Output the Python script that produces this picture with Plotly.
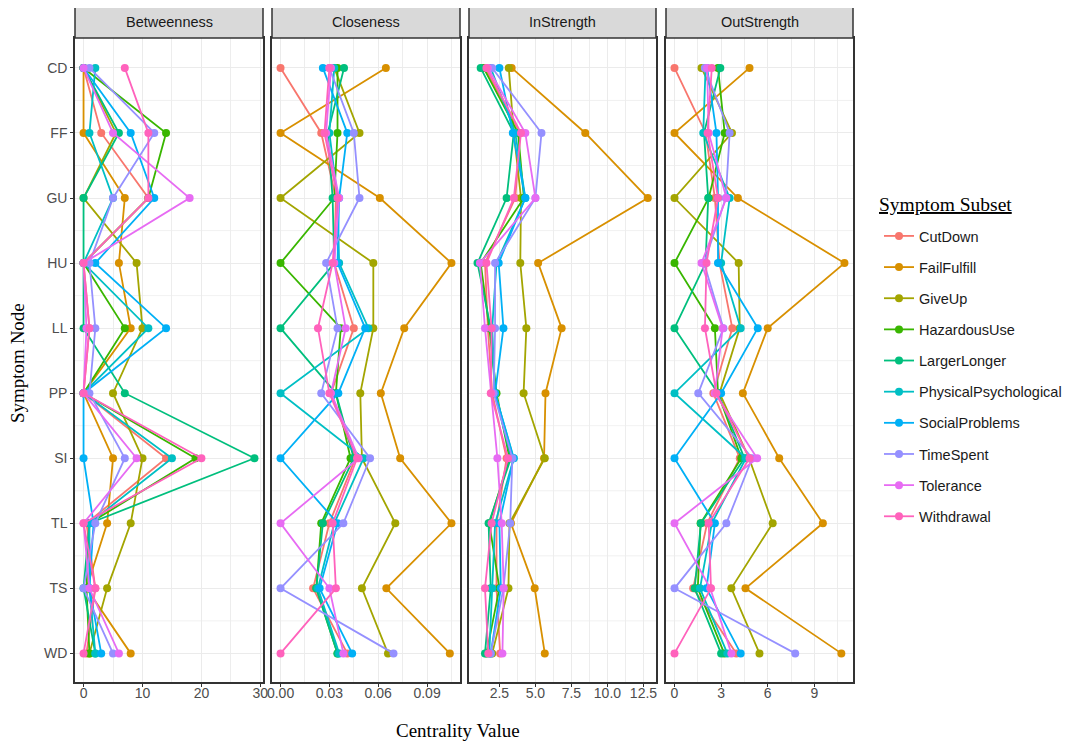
import plotly.graph_objects as go

NODES = ["CD", "FF", "GU", "HU", "LL", "PP", "SI", "TL", "TS", "WD"]
SERIES = ["CutDown", "FailFulfill", "GiveUp", "HazardousUse", "LargerLonger",
          "PhysicalPsychological", "SocialProblems", "TimeSpent", "Tolerance", "Withdrawal"]
COLORS = ["#F8766D", "#D89000", "#A3A500", "#39B600", "#00BF7D",
          "#00BFC4", "#00B0F6", "#9590FF", "#E76BF3", "#FF62BC"]
MEASURES = ["Betweenness", "Closeness", "InStrength", "OutStrength"]

# values in node order CD, FF, GU, HU, LL, PP, SI, TL, TS, WD
BETWEENNESS = {
    "CutDown":               [0, 3, 11, 0, 1, 0, 14, 0.5, 2, 0.5],
    "FailFulfill":           [0, 0, 7, 6, 8, 0, 5, 4, 0.5, 8],
    "GiveUp":                [0, 5.5, 0, 9, 10, 5, 10, 8, 4, 1],
    "HazardousUse":          [0, 14, 11, 0, 7, 0, 19, 1, 0.5, 1],
    "LargerLonger":          [0, 6, 0, 0, 0, 7, 29, 1, 0, 2],
    "PhysicalPsychological": [2, 1, 5, 0, 11, 0, 15, 1, 1, 2],
    "SocialProblems":        [0, 8, 12, 2, 14, 0, 0, 1.7, 1, 3],
    "TimeSpent":             [1, 12, 5, 1, 2, 1, 7, 2, 0, 5],
    "Tolerance":             [0, 5, 18, 0, 0.5, 0, 9, 0, 1, 6],
    "Withdrawal":            [7, 11, 11, 0, 1, 0, 20, 0, 2, 0],
}
CLOSENESS = {
    "CutDown":               [0, 0.025, 0.034, 0.033, 0.045, 0.031, 0.046, 0.030, 0.020, 0.041],
    "FailFulfill":           [0.0647, 0, 0.061, 0.105, 0.076, 0.0616, 0.0735, 0.105, 0.065, 0.104],
    "GiveUp":                [0.033, 0.0485, 0, 0.057, 0.057, 0.049, 0.050, 0.0705, 0.050, 0.066],
    "HazardousUse":          [0.035, 0.035, 0.033, 0, 0.037, 0.034, 0.043, 0.025, 0.022, 0.035],
    "LargerLonger":          [0.039, 0.029, 0.032, 0.033, 0, 0.034, 0.045, 0.026, 0.022, 0.035],
    "PhysicalPsychological": [0.033, 0.030, 0.035, 0.036, 0.054, 0, 0.051, 0.033, 0.023, 0.036],
    "SocialProblems":        [0.026, 0.041, 0.036, 0.035, 0.052, 0.0355, 0, 0.035, 0.024, 0.044],
    "TimeSpent":             [0.030, 0.045, 0.0485, 0.028, 0.035, 0.025, 0.055, 0.0386, 0, 0.0694],
    "Tolerance":             [0.031, 0.028, 0.036, 0.033, 0.040, 0.031, 0.048, 0, 0.030, 0.0386],
    "Withdrawal":            [0.030, 0.027, 0.035, 0.032, 0.023, 0.030, 0.047, 0.032, 0.034, 0],
}
INSTRENGTH = {
    "CutDown":               [1.5, 3.95, 3.6, 1.5, 1.7, 2.0, 3.0, 2.3, 2.3, 2.55],
    "FailFulfill":           [3.35, 8.46, 12.8, 5.19, 6.82, 5.7, 5.6, 3.3, 4.95, 5.65],
    "GiveUp":                [3.15, 3.5, 4.0, 3.95, 4.37, 4.18, 5.65, 3.2, 3.13, 2.0],
    "HazardousUse":          [1.4, 3.8, 4.2, 1.2, 1.8, 2.3, 3.2, 1.8, 2.5, 1.6],
    "LargerLonger":          [1.2, 3.5, 3.0, 0.98, 1.9, 2.2, 3.3, 1.75, 1.9, 1.5],
    "PhysicalPsychological": [1.9, 3.6, 4.3, 2.3, 2.0, 2.2, 3.5, 2.2, 2.0, 1.8],
    "SocialProblems":        [2.5, 3.43, 4.3, 2.45, 2.78, 2.2, 3.48, 2.5, 2.6, 1.9],
    "TimeSpent":             [2.0, 5.42, 5.0, 2.2, 2.2, 2.1, 3.4, 3.25, 2.78, 1.9],
    "Tolerance":             [1.7, 4.3, 5.0, 1.15, 1.5, 1.95, 2.36, 2.66, 2.8, 2.71],
    "Withdrawal":            [1.6, 4.0, 3.5, 1.6, 1.96, 1.9, 3.1, 1.96, 1.5, 1.73],
}
OUTSTRENGTH = {
    "CutDown":               [0, 2.0, 2.6, 2.9, 3.72, 2.5, 4.2, 2.1, 1.2, 3.98],
    "FailFulfill":           [4.83, 0, 4.08, 10.94, 6.0, 4.4, 6.74, 9.55, 4.57, 10.74],
    "GiveUp":                [1.74, 3.7, 0, 4.13, 4.2, 2.9, 4.8, 6.32, 3.66, 5.47],
    "HazardousUse":          [2.8, 3.23, 2.2, 0, 2.6, 2.8, 4.3, 1.68, 1.5, 3.2],
    "LargerLonger":          [2.95, 1.9, 2.17, 2.0, 0, 2.8, 4.5, 1.7, 1.3, 3.0],
    "PhysicalPsychological": [2.0, 1.85, 3.55, 3.0, 4.26, 0, 4.6, 2.4, 1.64, 3.4],
    "SocialProblems":        [2.1, 2.7, 2.8, 2.8, 5.36, 3.0, 0, 2.6, 2.06, 4.26],
    "TimeSpent":             [1.95, 3.55, 3.3, 1.9, 3.15, 1.53, 5.0, 3.34, 0, 7.77],
    "Tolerance":             [2.1, 2.2, 3.34, 1.74, 3.1, 2.6, 5.32, 0, 2.3, 3.66],
    "Withdrawal":            [2.4, 2.13, 2.8, 2.06, 1.96, 2.7, 4.83, 2.2, 2.35, 0],
}
PANEL_DATA = [BETWEENNESS, CLOSENESS, INSTRENGTH, OUTSTRENGTH]

# axis configuration per panel
X_RANGES = [[-1.45, 30.45], [-0.00525, 0.11025], [0.39, 13.37], [-0.547, 11.49]]
X_DTICK = [10, 0.03, 2.5, 3]
X_FORMAT = ["d", ".2f", ".1f", "d"]

OFF = 8  # page body margin offset
W, H = 1073 - OFF, 742 - OFF


def px(v):
    return v - OFF


L, R, T, B = px(75), px(853), px(38), px(682)
PANELS_PX = [(px(75), px(263)), (px(272), px(460)), (px(469), px(656)), (px(666), px(853))]
PW = R - L
PH = B - T

SANS = "Liberation Sans, Arial, sans-serif"
SERIF = "Liberation Serif, Times New Roman, serif"

fig = go.Figure()
for si, s in enumerate(SERIES):
    for pi, data in enumerate(PANEL_DATA):
        suffix = "" if pi == 0 else str(pi + 1)
        fig.add_trace(go.Scatter(
            x=data[s], y=NODES, mode="lines+markers", name=s,
            legendgroup=s, showlegend=(pi == 0),
            line=dict(color=COLORS[si], width=1.8),
            marker=dict(size=8, color=COLORS[si]),
            xaxis="x" + suffix, yaxis="y" + suffix,
            hovertemplate=s + "<br>%{y}: %{x}<extra></extra>",
        ))

layout = dict(
    width=W, height=H,
    margin=dict(l=L, r=W - R, t=T, b=H - B, pad=0, autoexpand=False),
    paper_bgcolor="white", plot_bgcolor="white",
    font=dict(family=SANS, color="#4D4D4D", size=14),
    showlegend=True,
    legend=dict(
        x=(px(879) - L) / PW, xanchor="left",
        y=(B - px(220)) / PH, yanchor="top",
        font=dict(family=SANS, size=14.5, color="#1A1A1A"),
        tracegroupgap=9.3, bgcolor="rgba(0,0,0,0)", itemwidth=30,
    ),
)

shapes = []
annotations = []
for pi in range(4):
    suffix = "" if pi == 0 else str(pi + 1)
    a, b = PANELS_PX[pi]
    layout["xaxis" + suffix] = dict(
        domain=[(a - L) / PW, (b - L) / PW], anchor="y" + suffix,
        range=X_RANGES[pi], dtick=X_DTICK[pi], tick0=0, tickformat=X_FORMAT[pi],
        showgrid=True, gridcolor="#EBEBEB", gridwidth=1,
        minor=dict(dtick=X_DTICK[pi] / 2, tick0=0, showgrid=True,
                   gridcolor="#EDEDED", gridwidth=0.8),
        zeroline=False, showline=True, linecolor="#333333", linewidth=1.5, mirror=True,
        ticks="outside", ticklen=3, tickcolor="#333333", tickwidth=1,
        ticklabelstandoff=-6,
        tickfont=dict(family=SANS, size=14, color="#4D4D4D"),
    )
    layout["yaxis" + suffix] = dict(
        domain=[0, 1], anchor="x" + suffix, type="category",
        categoryorder="array", categoryarray=NODES,
        range=[9.44, -0.46],
        showgrid=True, gridcolor="#EBEBEB", gridwidth=1,
        zeroline=False, showline=True, linecolor="#333333", linewidth=1.5, mirror=True,
        ticks="outside" if pi == 0 else "", ticklen=3, tickcolor="#333333",
        showticklabels=(pi == 0),
        tickfont=dict(family=SANS, size=14, color="#4D4D4D"),
    )
    if pi > 0:
        layout["yaxis" + suffix]["matches"] = "y"
    # strip header
    shapes.append(dict(type="rect", xref="x" + suffix + " domain", yref="paper",
                       x0=0, x1=1, y0=1, y1=(B - px(7)) / PH,
                       fillcolor="#D9D9D9", line=dict(color="#333333", width=1.5),
                       layer="above"))
    annotations.append(dict(text=MEASURES[pi], xref="x" + suffix + " domain", yref="paper",
                             x=0.5, y=(B - px(22.5)) / PH, showarrow=False,
                             xanchor="center", yanchor="middle",
                             font=dict(family=SANS, size=14.5, color="#1A1A1A")))
    # minor horizontal grid between categories
    for k in range(len(NODES) - 1):
        shapes.append(dict(type="line", xref="x" + suffix + " domain", yref="y" + suffix,
                           x0=0, x1=1, y0=k + 0.5, y1=k + 0.5,
                           line=dict(color="#EDEDED", width=0.8), layer="below"))

annotations.append(dict(text="Symptom Node", xref="paper", yref="paper",
                        x=(px(18) - L) / PW, y=(B - px(363)) / PH, textangle=-90,
                        showarrow=False, xanchor="center", yanchor="middle",
                        font=dict(family=SERIF, size=19, color="#000000")))
annotations.append(dict(text="Centrality Value", xref="paper", yref="paper",
                        x=(px(458) - L) / PW, y=(B - px(730)) / PH,
                        showarrow=False, xanchor="center", yanchor="middle",
                        font=dict(family=SERIF, size=19, color="#000000")))
annotations.append(dict(text="<u>Symptom Subset</u>", xref="paper", yref="paper",
                        x=(px(877) - L) / PW, y=(B - px(205)) / PH,
                        showarrow=False, xanchor="left", yanchor="middle",
                        font=dict(family=SERIF, size=19.5, color="#000000")))

layout["shapes"] = shapes
layout["annotations"] = annotations
fig.update_layout(**layout)
fig.write_html("out.html")
